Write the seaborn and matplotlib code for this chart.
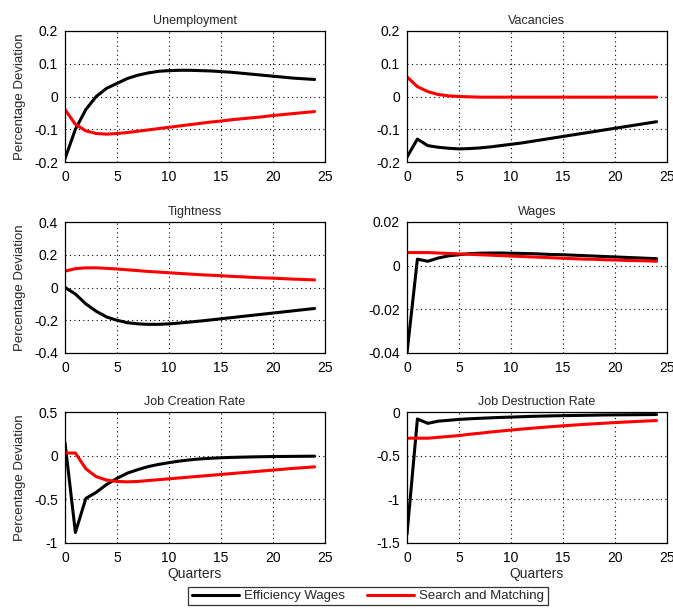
import numpy as np
import pandas as pd
import matplotlib
matplotlib.use("Agg")
import matplotlib.pyplot as plt
import seaborn as sns
from matplotlib.lines import Line2D

quarters = list(range(25))

unemp_ew = [-0.19, -0.10, -0.04, 0.0, 0.025, 0.04, 0.055, 0.065, 0.072, 0.077, 0.079, 0.08, 0.08,
            0.079, 0.078, 0.076, 0.074, 0.071, 0.068, 0.065, 0.062, 0.059, 0.056, 0.054, 0.052]
unemp_sm = [-0.04, -0.085, -0.105, -0.113, -0.115, -0.113, -0.11, -0.106, -0.102, -0.098, -0.094, -0.09,
            -0.086, -0.082, -0.078, -0.075, -0.071, -0.068, -0.065, -0.062, -0.058, -0.055, -0.052, -0.049, -0.046]

vac_ew = [-0.185, -0.13, -0.15, -0.155, -0.158, -0.16, -0.159, -0.157, -0.154, -0.15, -0.146, -0.142,
          -0.137, -0.132, -0.127, -0.122, -0.117, -0.112, -0.107, -0.102, -0.097, -0.092, -0.087, -0.082, -0.077]
vac_sm = [0.06, 0.03, 0.015, 0.006, 0.002, 0.0, -0.001, -0.002, -0.002, -0.002, -0.002, -0.002, -0.002,
          -0.002, -0.002, -0.002, -0.002, -0.002, -0.002, -0.002, -0.002, -0.002, -0.002, -0.002, -0.002]

tight_ew = [0.0, -0.04, -0.1, -0.145, -0.18, -0.2, -0.215, -0.222, -0.225, -0.225, -0.222, -0.217, -0.211,
            -0.205, -0.198, -0.191, -0.184, -0.177, -0.17, -0.163, -0.156, -0.149, -0.142, -0.135, -0.128]
tight_sm = [0.1, 0.115, 0.12, 0.12, 0.117, 0.113, 0.108, 0.103, 0.098, 0.094, 0.09, 0.086, 0.082,
            0.078, 0.075, 0.072, 0.068, 0.065, 0.062, 0.059, 0.057, 0.054, 0.051, 0.049, 0.046]

wage_ew = [-0.04, 0.003, 0.002, 0.0035, 0.0045, 0.005, 0.0055, 0.0057, 0.0058, 0.0058, 0.0057, 0.0056, 0.0055,
           0.0053, 0.0051, 0.005, 0.0048, 0.0046, 0.0044, 0.0042, 0.004, 0.0038, 0.0036, 0.0034, 0.0032]
wage_sm = [0.006, 0.006, 0.006, 0.0058, 0.0056, 0.0054, 0.0052, 0.005, 0.0048, 0.0046, 0.0044, 0.0042, 0.004,
           0.0038, 0.0036, 0.0034, 0.0032, 0.003, 0.0029, 0.0027, 0.0026, 0.0024, 0.0023, 0.0022, 0.002]

jc_ew = [0.15, -0.88, -0.49, -0.42, -0.33, -0.26, -0.2, -0.16, -0.125, -0.1, -0.08, -0.062, -0.048,
         -0.037, -0.03, -0.024, -0.02, -0.017, -0.014, -0.012, -0.01, -0.009, -0.008, -0.007, -0.006]
jc_sm = [0.03, 0.03, -0.15, -0.24, -0.28, -0.295, -0.3, -0.295, -0.285, -0.275, -0.265, -0.255, -0.245,
         -0.235, -0.225, -0.215, -0.205, -0.195, -0.185, -0.175, -0.165, -0.155, -0.145, -0.137, -0.128]

jd_ew = [-1.4, -0.08, -0.13, -0.105, -0.095, -0.085, -0.078, -0.072, -0.067, -0.062, -0.058, -0.054, -0.05,
         -0.047, -0.044, -0.042, -0.04, -0.038, -0.036, -0.034, -0.033, -0.032, -0.031, -0.03, -0.029]
jd_sm = [-0.3, -0.3, -0.3, -0.29, -0.28, -0.27, -0.255, -0.243, -0.23, -0.218, -0.207, -0.196, -0.186,
         -0.176, -0.167, -0.158, -0.15, -0.142, -0.135, -0.128, -0.121, -0.115, -0.109, -0.103, -0.098]

titles = ["Unemployment", "Vacancies", "Tightness", "Wages", "Job Creation Rate", "Job Destruction Rate"]
series = [(unemp_ew, unemp_sm), (vac_ew, vac_sm), (tight_ew, tight_sm),
          (wage_ew, wage_sm), (jc_ew, jc_sm), (jd_ew, jd_sm)]
ylims = [(-0.2, 0.2), (-0.2, 0.2), (-0.4, 0.4), (-0.04, 0.02), (-1, 0.5), (-1.5, 0)]
yticks = [[-0.2, -0.1, 0, 0.1, 0.2], [-0.2, -0.1, 0, 0.1, 0.2], [-0.4, -0.2, 0, 0.2, 0.4],
          [-0.04, -0.02, 0, 0.02], [-1, -0.5, 0, 0.5], [-1.5, -1, -0.5, 0]]
model_names = ["Efficiency Wages", "Search and Matching"]
palette = {"Efficiency Wages": "black", "Search and Matching": "red"}

sns.set_style("white")
plt.rcParams["font.family"] = ["Liberation Sans", "DejaVu Sans"]
plt.rcParams["font.size"] = 9

fig = plt.figure(figsize=(6.73, 6.09), dpi=100)
W, H = 673, 609
lefts = [65, 407]
tops = [31, 222, 412]
aw, ah = 260, 131

for i, (title, (ew, sm)) in enumerate(zip(titles, series)):
    r, c = divmod(i, 2)
    ax = fig.add_axes([lefts[c] / W, 1 - (tops[r] + ah) / H, aw / W, ah / H])
    df = pd.DataFrame({
        "Quarter": quarters * 2,
        "value": ew + sm,
        "model": [model_names[0]] * 25 + [model_names[1]] * 25,
    })
    sns.lineplot(data=df, x="Quarter", y="value", hue="model", palette=palette,
                 linewidth=2.2, legend=False, ax=ax)
    ax.set_xlim(0, 25)
    ax.set_ylim(*ylims[i])
    ax.set_xticks([0, 5, 10, 15, 20, 25])
    ax.set_yticks(yticks[i])
    ax.set_yticklabels([f"{v:g}" for v in yticks[i]])
    ax.grid(True, linestyle=(0, (1, 3)), color="black", linewidth=0.8)
    ax.tick_params(direction="in", length=3, labelsize=10, colors="black")
    ax.tick_params(axis="x", pad=6)
    ax.tick_params(axis="y", pad=5)
    for sp in ax.spines.values():
        sp.set_color("black")
        sp.set_linewidth(0.9)
    ax.set_title(title, fontsize=9, pad=5)
    ax.set_xlabel("Quarters" if r == 2 else "", fontsize=10, labelpad=1)
    ax.set_ylabel("Percentage Deviation" if c == 0 else "", fontsize=9.5, labelpad=6)

handles = [Line2D([], [], color="black", lw=2.2), Line2D([], [], color="red", lw=2.2)]
leg = fig.legend(handles, model_names, loc="center", ncol=2,
                 bbox_to_anchor=(368 / W, 1 - 596 / H), frameon=True, fancybox=False,
                 edgecolor="black", fontsize=9.5, handlelength=3.6, handletextpad=0.4,
                 columnspacing=1.6, borderpad=0.25, borderaxespad=0)
leg.get_frame().set_linewidth(0.9)

fig.savefig("out.png", dpi=100)
